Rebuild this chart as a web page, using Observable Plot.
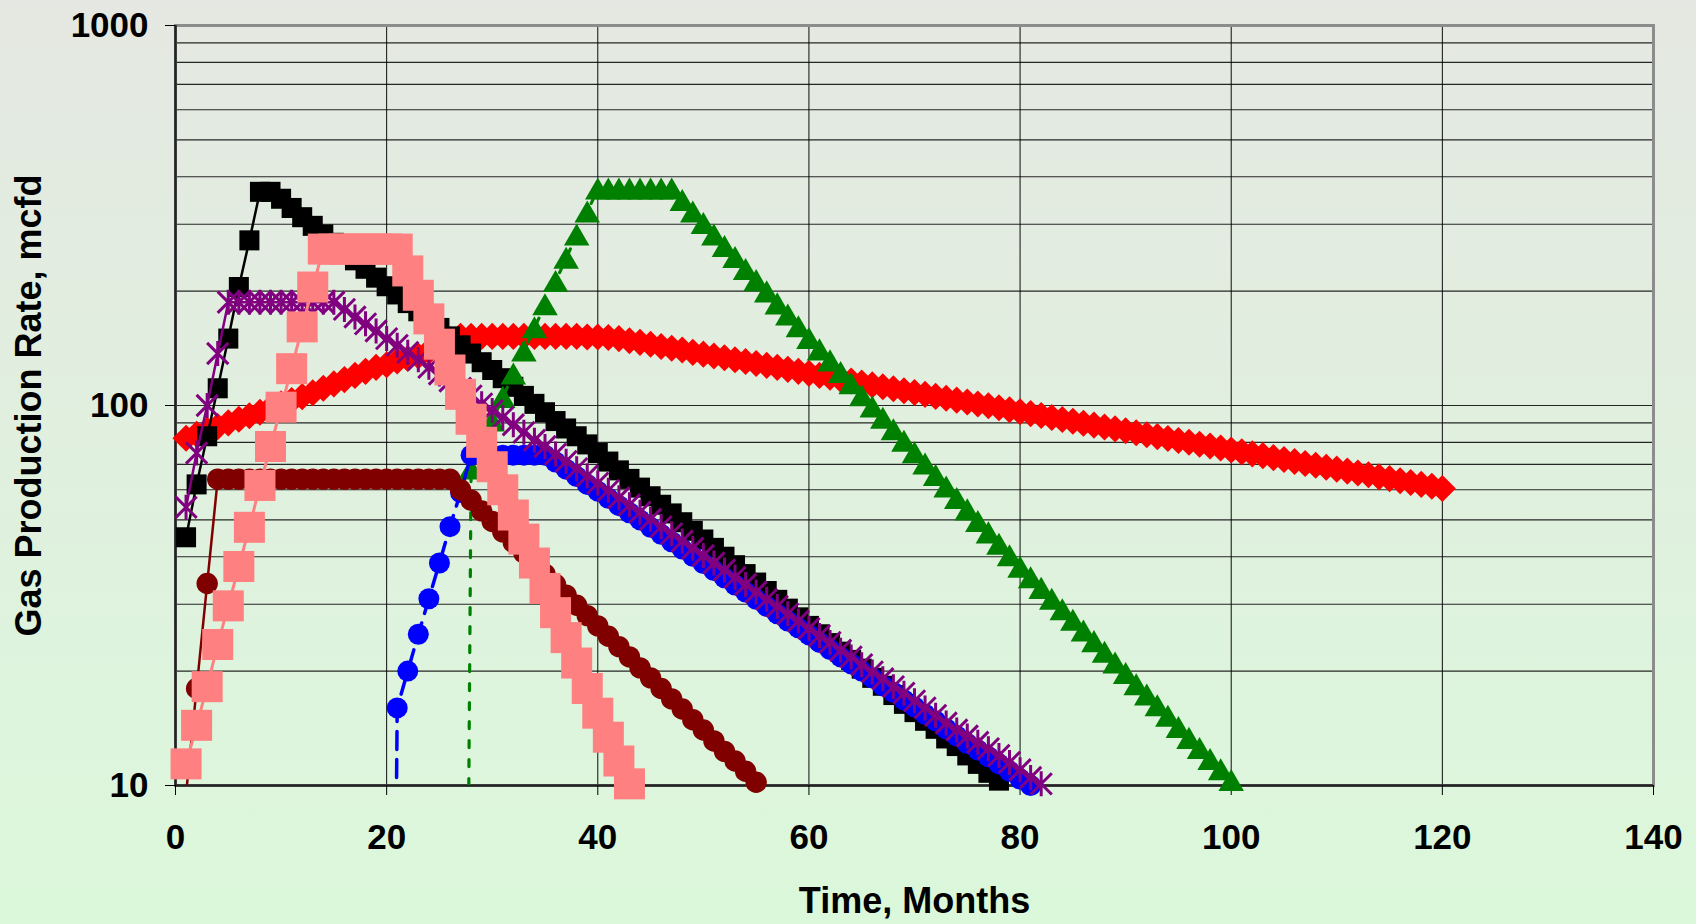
<!DOCTYPE html>
<html>
<head>
<meta charset="utf-8">
<script src="https://cdn.jsdelivr.net/npm/d3@7"></script>
<script src="https://cdn.jsdelivr.net/npm/@observablehq/plot@0.6"></script>
<style>
html, body { margin: 0; padding: 0; width: 1696px; height: 924px; overflow: hidden;
  background: linear-gradient(#e5e8e2, #dbf8db); color: #000;
  font-family: "Liberation Sans", Arial, sans-serif; }
#chart svg { background: transparent; display: block; }
</style>
</head>
<body>
<div id="chart"></div>
<script>
// ---------- data (monthly gas production rate, mcfd) ----------
const xTicks = [0, 20, 40, 60, 80, 100, 120, 140];
const yTicks = [10, 100, 1000];
const yGridValues = [10, 20, 30, 40, 50, 60, 70, 80, 90, 100, 200, 300, 400, 500, 600, 700, 800, 900, 1000];

const redStart = 1;
const redRate = [
  82, 84, 86, 88, 90, 92, 94, 96, 98.5, 101,
  103, 105.5, 108, 111, 114, 117, 120, 123, 126, 128,
  131, 133, 135, 139, 144, 149, 152, 152, 152, 152,
  152, 152, 152, 152, 152, 152, 152, 152, 151.5, 151.5,
  151, 150, 148, 146.6, 145, 143, 141.5, 140, 138, 136.5,
  135, 133.5, 132, 130.5, 129, 127.5, 126, 124.5, 123, 121.5,
  120, 118.7, 117.3, 116, 114.6, 113.3, 112, 110.7, 109.4, 108.2,
  107, 105.7, 104.5, 103.3, 102.1, 100.9, 99.8, 98.6, 97.5, 96.3,
  95.2, 94.1, 93, 91.9, 90.9, 89.8, 88.8, 87.8, 86.8, 85.8,
  84.8, 83.8, 82.8, 81.9, 80.9, 80, 79.1, 78.2, 77.3, 76.4,
  75.5, 74.6, 73.8, 72.9, 72.1, 71.2, 70.4, 69.6, 68.8, 68,
  67.2, 66.4, 65.7, 64.9, 64.2, 63.4, 62.7, 62, 61.3, 60.5
];

const blackStart = 1;
const blackRate = [
  45, 62, 83, 111, 150, 205, 272, 365, 365, 350,
  331, 313, 297, 282, 268, 254, 241, 229, 217, 206,
  196, 186, 177, 168, 160, 152, 144, 137, 130, 124,
  118, 112, 106, 101, 96, 91, 87, 83, 79, 75,
  71.2, 67.5, 64.1, 60.8, 57.7, 54.8, 52, 49.3, 46.8, 44.4,
  42.2, 40, 38, 36, 34.2, 32.5, 30.8, 29.2, 27.7, 26.3,
  25, 23.7, 22.5, 21.4, 20.3, 19.2, 18.3, 17.3, 16.4, 15.6,
  14.8, 14.1, 13.3, 12.7, 12, 11.4, 10.8, 10.3, 9.8, 9.3
];

const greenStart = 27;
const greenRate = [
  0.01,
  68, 79, 91, 105, 121, 139, 160, 184, 212, 244,
  281, 323, 371, 371, 371, 371, 371, 371, 371, 371,
  346, 323, 301, 281, 262, 245, 228, 213, 199, 185,
  173, 161, 150, 140, 131, 122, 114, 106, 99, 92.5,
  86.3, 80.5, 75.1, 70.1, 65.4, 61, 56.9, 53.1, 49.5, 46.2,
  43.1, 40.2, 37.5, 35.2, 33, 30.9, 29, 27.2, 25.5, 23.9,
  22.4, 21, 19.7, 18.4, 17.3, 16.2, 15.2, 14.2, 13.3, 12.5,
  11.7, 11, 10.3, 9.65, 9.05
];

const blueStart = 20;
const blueRate = [
  0.01,
  16, 20, 25, 31, 38.5, 48, 59, 74, 74, 74,
  74, 74, 74, 74, 74, 71, 68, 65, 62, 59.5,
  57, 54.5, 52.2, 50, 47.8, 45.8, 43.8, 41.9, 40.1, 38.4,
  36.8, 35.2, 33.7, 32.3, 30.9, 29.6, 28.3, 27.1, 26, 24.9,
  23.8, 22.8, 21.8, 20.9, 20, 19.2, 18.3, 17.6, 16.8, 16.1,
  15.4, 14.8, 14.1, 13.5, 12.9, 12.4, 11.9, 11.4, 10.9, 10.4,
  10.0, 9.6
];

const purpleStart = 1;
const purpleRate = [
  54, 75, 100, 137, 187, 187, 187, 187, 187, 187,
  187, 187, 187, 187, 187, 179, 171, 164, 157, 150,
  144, 138, 132, 126, 121, 116, 111, 106, 101, 97,
  93, 89, 85, 81, 78, 74.5, 71.3, 68.2, 65.3, 62.5,
  59.8, 57.2, 54.8, 52.4, 50.2, 48, 46, 44, 42.1, 40.3,
  38.5, 36.9, 35.3, 33.8, 32.3, 30.9, 29.6, 28.3, 27.1, 25.9,
  24.8, 23.8, 22.7, 21.8, 20.8, 19.9, 19.1, 18.2, 17.5, 16.7,
  16, 15.3, 14.6, 14, 13.5, 13, 12.5, 12, 11.5, 11,
  10.5, 10.1, 9.7, 9.3
];

const maroonStart = 1;
const maroonRate = [
  9.5, 18, 34, 64, 64, 64, 64, 64, 64, 64,
  64, 64, 64, 64, 64, 64, 64, 64, 64, 64,
  64, 64, 64, 64, 64, 64, 60, 56.3, 52.8, 49.5,
  46.5, 43.6, 40.9, 38.4, 36, 33.8, 31.7, 29.8, 28, 26.3,
  24.7, 23.2, 21.8, 20.4, 19.2, 18, 16.9, 15.9, 14.9, 14,
  13.1, 12.3, 11.6, 10.9, 10.2, 9.6
];

const pinkStart = 1;
const pinkRate = [
  11.4, 14.4, 18.2, 23.5, 29.7, 37.7, 47.8, 61.6, 78, 99,
  125, 161, 205, 258, 258, 258, 258, 258, 258, 258,
  258, 226, 195, 169, 145, 124, 107, 92, 80, 69,
  60, 51.5, 44.5, 38.5, 33, 28.5, 24.5, 21, 18, 15.5,
  13.4, 11.6, 10.1, 8.7
];

// ---------- marker shapes (Excel-like) ----------
const excelStar = {
  draw(ctx, size) {
    const r = Math.sqrt(size / Math.PI), d = r * 0.85;
    ctx.moveTo(0, -r); ctx.lineTo(0, r);
    ctx.moveTo(-d, -d); ctx.lineTo(d, d);
    ctx.moveTo(-d, d); ctx.lineTo(d, -d);
  }
};
const excelTriangle = {
  draw(ctx, size) {
    const r = Math.sqrt(size / Math.PI);
    ctx.moveTo(0, -r); ctx.lineTo(r * 1.1, r * 0.9); ctx.lineTo(-r * 1.1, r * 0.9); ctx.closePath();
  }
};

// ---------- series styles (drawing order = Excel series order) ----------
const seriesList = [
  {start: redStart, values: redRate, color: "#ff0000", width: 2, dash: null, symbol: "diamond2", r: 12.2, mode: "fill"},
  {start: blackStart, values: blackRate, color: "#000000", width: 2.5, dash: null, symbol: "square", r: 11.3, mode: "fill"},
  {start: greenStart, values: greenRate, color: "#008000", width: 3.2, dash: "7,12", symbol: excelTriangle, r: 11.6, mode: "fill"},
  {start: blueStart, values: blueRate, color: "#0000ff", width: 3.5, dash: "18,10", symbol: "circle", r: 10.5, mode: "fill"},
  {start: purpleStart, values: purpleRate, color: "#800080", width: 2.5, dash: null, symbol: excelStar, r: 12.5, mode: "stroke"},
  {start: maroonStart, values: maroonRate, color: "#800000", width: 2.5, dash: null, symbol: "circle", r: 10.7, mode: "fill"},
  {start: pinkStart, values: pinkRate, color: "#ff8080", width: 3, dash: null, symbol: "square", r: 17.5, mode: "fill"}
];

const toRows = (start, values) => values.map((v, i) => ({month: start + i, rate: v}));

const seriesMarks = seriesList.flatMap(s => {
  const data = toRows(s.start, s.values);
  const visible = data.filter(d => d.rate >= 10 && d.rate <= 1000);
  const dotOpts = s.mode === "fill"
    ? {x: "month", y: "rate", symbol: s.symbol, r: s.r, fill: s.color, stroke: "none"}
    : {x: "month", y: "rate", symbol: s.symbol, r: s.r, fill: "none", stroke: s.color, strokeWidth: 3};
  return [
    Plot.line(data, {x: "month", y: "rate", stroke: s.color, strokeWidth: s.width,
      strokeDasharray: s.dash ?? undefined, clip: true}),
    Plot.dot(visible, dotOpts)
  ];
});

const chart = Plot.plot({
  width: 1696,
  height: 924,
  marginLeft: 175,
  marginRight: 43,
  marginTop: 25,
  marginBottom: 139,
  style: {background: "transparent", fontFamily: "'Liberation Sans', Arial, sans-serif", color: "#000"},
  x: {domain: [0, 140]},
  y: {type: "log", domain: [10, 1000]},
  marks: [
    Plot.gridY(yGridValues, {stroke: "#111", strokeOpacity: 0.9, strokeWidth: 1.1}),
    Plot.gridX(xTicks, {stroke: "#000", strokeOpacity: 0.95, strokeWidth: 1}),
    Plot.frame({stroke: "#8c8c8c", strokeWidth: 3}),
    Plot.ruleX([0], {stroke: "#222", strokeWidth: 2.5}),
    Plot.ruleY([10], {stroke: "#222", strokeWidth: 2.5}),
    Plot.axisX(xTicks, {tickSize: 10, tickPadding: 29, fontSize: 35, fontWeight: "bold", label: null, tickFormat: d => String(d)}),
    Plot.axisY(yTicks, {tickSize: 10, tickPadding: 17, fontSize: 35, fontWeight: "bold", label: null, tickFormat: d => String(d)}),
    Plot.text(["Time, Months"], {text: d => d, frameAnchor: "bottom", dy: 116, textAnchor: "middle", lineAnchor: "middle", fontSize: 36, fontWeight: "bold"}),
    Plot.text(["Gas Production Rate, mcfd"], {text: d => d, frameAnchor: "left", dx: -146, rotate: -90, textAnchor: "middle", lineAnchor: "middle", fontSize: 36, fontWeight: "bold"}),
    ...seriesMarks
  ]
});
document.getElementById("chart").appendChild(chart);
</script>
</body>
</html>
